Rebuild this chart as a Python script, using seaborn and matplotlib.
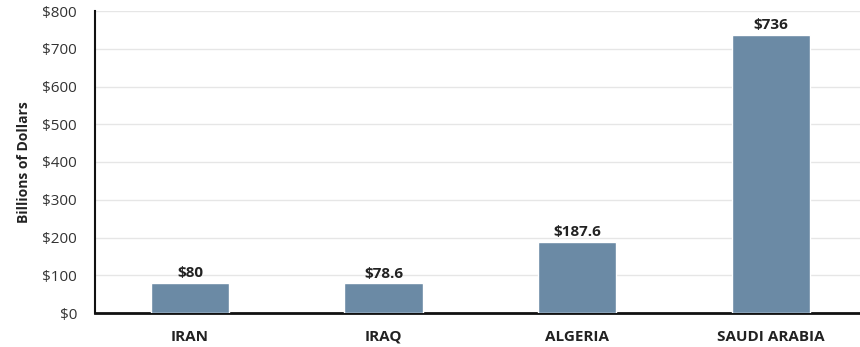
import matplotlib
matplotlib.use("Agg")
import matplotlib.pyplot as plt
import seaborn as sns
import pandas as pd

countries = ["IRAN", "IRAQ", "ALGERIA", "SAUDI ARABIA"]
values = [80, 78.6, 187.6, 736]
value_labels = ["$80", "$78.6", "$187.6", "$736"]
yticks = [0, 100, 200, 300, 400, 500, 600, 700, 800]
ytick_labels = ["$0", "$100", "$200", "$300", "$400", "$500", "$600", "$700", "$800"]

sns.set_theme(style="white")
plt.rcParams['font.family'] = ['Open Sans', 'DejaVu Sans']

df = pd.DataFrame({"country": countries, "value": values})

fig = plt.figure(figsize=(8.6, 3.47), dpi=100)
ax = fig.add_axes([95/860, 1 - 313/347, (860 - 95)/860, 302/347])

sns.barplot(data=df, x="country", y="value", color="#6b8aa5", width=0.405,
            saturation=1, ax=ax, zorder=3)

ax.set_ylim(0, 800)
ax.set_xlim(-0.49, 3.46)
ax.set_yticks(yticks)
ax.set_yticklabels(ytick_labels, fontsize=11, color="#333333")
ax.set_xticks(range(len(countries)))
ax.set_xticklabels(countries, fontsize=11, fontweight="bold", color="#222222")
ax.tick_params(axis="x", length=0, pad=12)
ax.tick_params(axis="y", length=0, pad=13)
ax.yaxis.grid(True, color="#e6e6e6", linewidth=1, zorder=0)
ax.set_axisbelow(True)
ax.set_xlabel("")
ax.set_ylabel("Billions of Dollars", fontsize=10, fontweight="bold", color="#222222", labelpad=8)

for s in ["top", "right"]:
    ax.spines[s].set_visible(False)
ax.spines["left"].set_color("#111111")
ax.spines["left"].set_linewidth(1.5)
ax.spines["bottom"].set_color("#111111")
ax.spines["bottom"].set_linewidth(2)

for container in ax.containers:
    ax.bar_label(container, labels=value_labels, padding=2, fontsize=11,
                 fontweight="bold", color="#222222")

fig.savefig("out.png", dpi=100)
